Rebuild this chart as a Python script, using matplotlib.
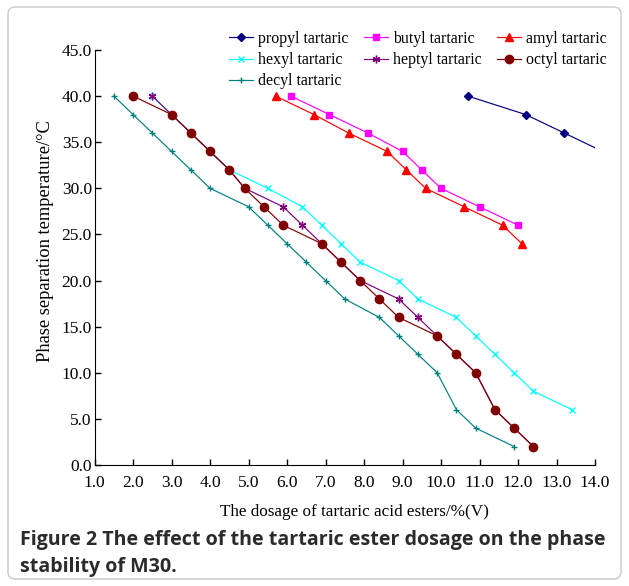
import matplotlib
matplotlib.use("Agg")
from matplotlib import pyplot as plt
from matplotlib.patches import FancyBboxPatch

# Data: dosage (%V) vs phase separation temperature (C)
propyl_x = [10.7, 12.2, 13.2, 14.2]
propyl_y = [40, 38, 36, 34]

butyl_x = [6.1, 7.1, 8.1, 9.0, 9.5, 10.0, 11.0, 12.0]
butyl_y = [40, 38, 36, 34, 32, 30, 28, 26]

amyl_x = [5.7, 6.7, 7.6, 8.6, 9.1, 9.6, 10.6, 11.6, 12.1]
amyl_y = [40, 38, 36, 34, 32, 30, 28, 26, 24]

hexyl_x = [2.5, 3.0, 3.5, 4.0, 4.5, 5.5, 6.4, 6.9, 7.4, 7.9, 8.9, 9.4, 10.4, 10.9, 11.4, 11.9, 12.4, 13.4]
hexyl_y = [40, 38, 36, 34, 32, 30, 28, 26, 24, 22, 20, 18, 16, 14, 12, 10, 8, 6]

heptyl_x = [2.5, 3.0, 3.5, 4.0, 4.5, 4.9, 5.9, 6.4, 6.9, 7.4, 7.9, 8.9, 9.4, 9.9, 10.4, 10.9, 11.4, 11.9, 12.4]
heptyl_y = [40, 38, 36, 34, 32, 30, 28, 26, 24, 22, 20, 18, 16, 14, 12, 10, 6, 4, 2]

octyl_x = [2.0, 3.0, 3.5, 4.0, 4.5, 4.9, 5.4, 5.9, 6.9, 7.4, 7.9, 8.4, 8.9, 9.9, 10.4, 10.9, 11.4, 11.9, 12.4]
octyl_y = [40, 38, 36, 34, 32, 30, 28, 26, 24, 22, 20, 18, 16, 14, 12, 10, 6, 4, 2]

decyl_x = [1.5, 2.0, 2.5, 3.0, 3.5, 4.0, 5.0, 5.5, 6.0, 6.5, 7.0, 7.5, 8.4, 8.9, 9.4, 9.9, 10.4, 10.9, 11.9]
decyl_y = [40, 38, 36, 34, 32, 30, 28, 26, 24, 22, 20, 18, 16, 14, 12, 10, 6, 4, 2]

x_ticks = [1.0 + i for i in range(14)]
y_ticks = [5.0 * i for i in range(10)]

serif = ["Liberation Serif", "DejaVu Serif"]
plt.rcParams["font.family"] = serif

W, H = 629, 586
fig = plt.figure(figsize=(W / 100, H / 100), dpi=100)

# rounded frame around the whole figure
frame = FancyBboxPatch((8 / W, 7 / H), 613 / W, 572 / H,
                       boxstyle="round,pad=0,rounding_size=0.012",
                       transform=fig.transFigure, facecolor="none",
                       edgecolor="#c8c8c8", linewidth=1.0)
fig.patches.append(frame)

ax = fig.add_axes([94.6 / W, 1 - 465 / H, (595 - 94.6) / W, (465 - 50) / H])

series = [
    ("propyl tartaric", propyl_x, propyl_y, "#000080", "D", 4.0),
    ("butyl tartaric", butyl_x, butyl_y, "#FF00FF", "s", 5.0),
    ("amyl tartaric", amyl_x, amyl_y, "#FF0000", "^", 6.0),
    ("hexyl tartaric", hexyl_x, hexyl_y, "#00FFFF", "x", 4.5),
    ("heptyl tartaric", heptyl_x, heptyl_y, "#800080", (6, 2, 0), 5.5),
    ("octyl tartaric", octyl_x, octyl_y, "#800000", "o", 6.0),
    ("decyl tartaric", decyl_x, decyl_y, "#008080", "+", 5.0),
]

handles = {}
for name, xs, ys, color, marker, ms in series:
    line, = ax.plot(xs, ys, color=color, marker=marker, markersize=ms,
                    linewidth=0.85, markeredgewidth=1.0, label=name)
    handles[name] = line

ax.set_xlim(1.0, 14.0)
ax.set_ylim(0.0, 45.0)
ax.set_xticks(x_ticks)
ax.set_yticks(y_ticks)
ax.set_xticklabels(["%.1f" % v for v in x_ticks])
ax.set_yticklabels(["%.1f" % v for v in y_ticks])
ax.tick_params(direction="in", length=4, width=1, labelsize=12.5)
ax.tick_params(axis="x", pad=7)
ax.tick_params(axis="y", pad=2)
ax.spines["top"].set_visible(False)
ax.spines["right"].set_visible(False)

ax.set_xlabel("The dosage of tartaric acid esters/%(V)", fontsize=12.3)
ax.set_ylabel("Phase separation temperature/\u00b0C", fontsize=13.3)
ax.xaxis.label.set_va("center")
ax.yaxis.label.set_va("center")
ax.xaxis.set_label_coords((354 - 94.6) / 500.4, (465 - 512) / 415)
ax.yaxis.set_label_coords((45 - 94.6) / 500.4, (465 - 241.5) / 415)

# legend filled row by row like the original (matplotlib fills columns)
order = ["propyl tartaric", "hexyl tartaric", "decyl tartaric",
         "butyl tartaric", "heptyl tartaric",
         "amyl tartaric", "octyl tartaric"]
fig.legend([handles[n] for n in order], order, loc="upper left",
           bbox_to_anchor=(229 / W, 1 - 31 / H), ncol=3, frameon=False,
           fontsize=11.4, handlelength=1.5, handletextpad=0.32,
           columnspacing=1.0, labelspacing=0.33, borderpad=0, borderaxespad=0)

cap_font = ["Open Sans", "DejaVu Sans"]
fig.text(20 / W, 1 - 540 / H,
         "Figure 2 The effect of the tartaric ester dosage on the phase",
         family=cap_font, fontweight="bold", fontsize=14.1,
         color="#2b2b2b", va="center", ha="left")
fig.text(20 / W, 1 - 567 / H, "stability of M30.",
         family=cap_font, fontweight="bold", fontsize=14.1,
         color="#2b2b2b", va="center", ha="left")

fig.savefig("out.png", dpi=100)
